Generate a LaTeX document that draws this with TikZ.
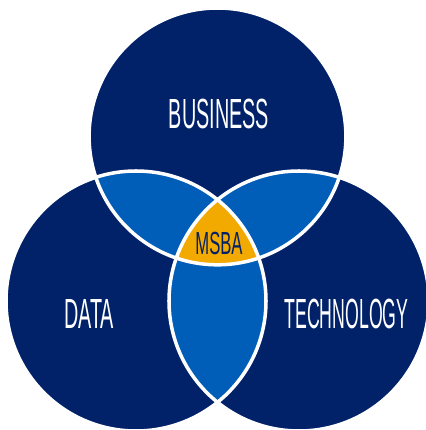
\documentclass[tikz,border=0pt]{standalone}
\usepackage{xcolor}
\usepackage{fontspec}
\usepackage{tikz}
\definecolor{navycolor}{HTML}{012169}
\definecolor{lenscolor}{HTML}{005EB8}
\definecolor{goldcolor}{HTML}{F2A900}
\newfontfamily\condfont[FakeStretch=0.47]{Liberation Sans}
\newfontfamily\narrowfont[FakeStretch=0.42]{Liberation Sans}
\newfontfamily\msbafont[FakeStretch=0.52]{Liberation Sans}

\begin{document}
\begin{tikzpicture}[x=0.02cm, y=0.02cm,
  setlabel/.style={anchor=base, inner sep=0pt, text=white, font=\condfont\fontsize{24pt}{28pt}\selectfont},
  rim/.style={draw=white, line width=2pt}]%
\useasboundingbox (0,0) rectangle (426,430);%
\coordinate (business) at (217.5,293.6);%
\coordinate (data) at (136,129);%
\coordinate (technology) at (299,129);%
\fill[navycolor] (business) circle (128.4);%
\fill[navycolor] (data) circle (130);%
\fill[navycolor] (technology) circle (130);%
\begin{scope}%
\clip (business) circle (128.4);%
\fill[lenscolor] (data) circle (130);%
\fill[lenscolor] (technology) circle (130);%
\end{scope}%
\begin{scope}%
\clip (data) circle (130);%
\fill[lenscolor] (technology) circle (130);%
\end{scope}%
\begin{scope}%
\clip (business) circle (128.4);%
\clip (data) circle (130);%
\fill[goldcolor] (technology) circle (130);%
\end{scope}%
\draw[rim] (business) circle (128.4);%
\draw[rim] (data) circle (130);%
\draw[rim] (technology) circle (130);%
\node[setlabel] (businesstext) at (219,301) {BUSINESS};%
\node[setlabel] (datatext) at (89,101) {DATA};%
\node[setlabel, font=\narrowfont\fontsize{24pt}{28pt}\selectfont] (technologytext) at (346.5,101) {TECHNOLOGY};%
\node[setlabel, text=navycolor, font=\msbafont\fontsize{18.2pt}{22pt}\selectfont] (msbatext) at (219,175) {MSBA};%
\end{tikzpicture}
\end{document}
